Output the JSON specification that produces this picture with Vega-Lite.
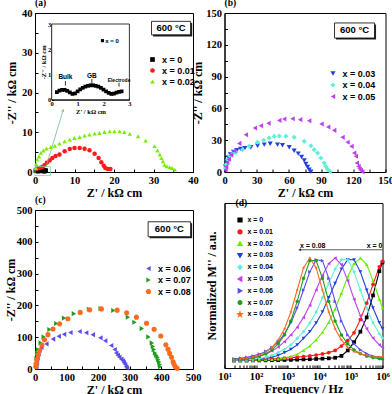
{
"$schema":"https://vega.github.io/schema/vega-lite/v6.json",
"background":"white",
"padding":{"left":3,"top":-3,"right":0,"bottom":0},
"datasets":{
"a":[
{"s":"x = 0","x":0.2,"y":0.3},{"s":"x = 0","x":0.3,"y":0.36},{"s":"x = 0","x":0.4,"y":0.39},{"s":"x = 0","x":0.5,"y":0.39},{"s":"x = 0","x":0.6,"y":0.35},{"s":"x = 0","x":0.7,"y":0.29},{"s":"x = 0","x":0.8,"y":0.23},{"s":"x = 0","x":0.9,"y":0.25},{"s":"x = 0","x":1.0,"y":0.33},{"s":"x = 0","x":1.1,"y":0.41},{"s":"x = 0","x":1.2,"y":0.47},{"s":"x = 0","x":1.3,"y":0.52},{"s":"x = 0","x":1.4,"y":0.55},{"s":"x = 0","x":1.5,"y":0.57},{"s":"x = 0","x":1.6,"y":0.57},{"s":"x = 0","x":1.7,"y":0.55},{"s":"x = 0","x":1.8,"y":0.52},{"s":"x = 0","x":1.9,"y":0.47},{"s":"x = 0","x":2.0,"y":0.4},{"s":"x = 0","x":2.1,"y":0.33},{"s":"x = 0","x":2.2,"y":0.27},{"s":"x = 0","x":2.3,"y":0.23},{"s":"x = 0","x":2.4,"y":0.24},{"s":"x = 0","x":2.5,"y":0.28},{"s":"x = 0","x":2.6,"y":0.31},{"s":"x = 0","x":2.7,"y":0.33},
{"s":"x = 0.01","x":0.4,"y":0.8},{"s":"x = 0.01","x":0.9,"y":1.0},{"s":"x = 0.01","x":1.4,"y":1.1},{"s":"x = 0.01","x":1.9,"y":1.25},{"s":"x = 0.01","x":2.4,"y":1.7},{"s":"x = 0.01","x":3.0,"y":2.3},{"s":"x = 0.01","x":3.7,"y":2.9},{"s":"x = 0.01","x":4.4,"y":3.5},{"s":"x = 0.01","x":5.2,"y":4.0},{"s":"x = 0.01","x":6.2,"y":4.4},{"s":"x = 0.01","x":7.5,"y":5.2},{"s":"x = 0.01","x":8.8,"y":5.8},{"s":"x = 0.01","x":10,"y":6.04},{"s":"x = 0.01","x":11.3,"y":6.04},{"s":"x = 0.01","x":12.55,"y":5.87},{"s":"x = 0.01","x":13.8,"y":5.45},{"s":"x = 0.01","x":15.1,"y":4.61},{"s":"x = 0.01","x":16.1,"y":3.52},{"s":"x = 0.01","x":16.8,"y":2.43},{"s":"x = 0.01","x":17.4,"y":1.59},{"s":"x = 0.01","x":17.8,"y":1.0},{"s":"x = 0.01","x":18.4,"y":0.75},{"s":"x = 0.01","x":19.1,"y":0.75},
{"s":"x = 0.02","x":0.2,"y":1},{"s":"x = 0.02","x":0.3,"y":2},{"s":"x = 0.02","x":0.6,"y":3.1},{"s":"x = 0.02","x":1,"y":3.9},{"s":"x = 0.02","x":1.5,"y":4.8},{"s":"x = 0.02","x":2.1,"y":5.4},{"s":"x = 0.02","x":2.9,"y":5.9},{"s":"x = 0.02","x":4,"y":6.3},{"s":"x = 0.02","x":5,"y":6.6},{"s":"x = 0.02","x":6.2,"y":7.13},{"s":"x = 0.02","x":7.5,"y":7.72},{"s":"x = 0.02","x":8.8,"y":8.14},{"s":"x = 0.02","x":10,"y":8.55},{"s":"x = 0.02","x":11.3,"y":8.8},{"s":"x = 0.02","x":12.55,"y":9.14},{"s":"x = 0.02","x":13.8,"y":9.4},{"s":"x = 0.02","x":15.1,"y":9.65},{"s":"x = 0.02","x":16.3,"y":9.8},{"s":"x = 0.02","x":17.6,"y":10.06},{"s":"x = 0.02","x":18.9,"y":10.23},{"s":"x = 0.02","x":20.1,"y":10.23},{"s":"x = 0.02","x":21.4,"y":10.23},{"s":"x = 0.02","x":22.6,"y":10.06},{"s":"x = 0.02","x":24,"y":9.6},{"s":"x = 0.02","x":26.1,"y":9.0},{"s":"x = 0.02","x":28,"y":7.9},{"s":"x = 0.02","x":30.3,"y":6.5},{"s":"x = 0.02","x":31,"y":5.4},{"s":"x = 0.02","x":31.6,"y":4.4},{"s":"x = 0.02","x":32,"y":3.5},{"s":"x = 0.02","x":32.4,"y":2.7},{"s":"x = 0.02","x":32.8,"y":1.8},{"s":"x = 0.02","x":33.4,"y":1.4},{"s":"x = 0.02","x":34.1,"y":1.2},{"s":"x = 0.02","x":34.7,"y":1.0},{"s":"x = 0.02","x":35.4,"y":0.6}
],
"b":[
{"s":"x = 0.03","x":0.9,"y":5},{"s":"x = 0.03","x":2,"y":9.5},{"s":"x = 0.03","x":3.5,"y":13.5},{"s":"x = 0.03","x":5.5,"y":16.5},{"s":"x = 0.03","x":8.4,"y":19},{"s":"x = 0.03","x":11.5,"y":20.5},{"s":"x = 0.03","x":15,"y":21.8},{"s":"x = 0.03","x":19,"y":22.5},{"s":"x = 0.03","x":24.6,"y":23.3},{"s":"x = 0.03","x":30.8,"y":24.8},{"s":"x = 0.03","x":37,"y":25.8},{"s":"x = 0.03","x":42.6,"y":26.7},{"s":"x = 0.03","x":49.4,"y":25.8},{"s":"x = 0.03","x":54,"y":25.2},{"s":"x = 0.03","x":60.3,"y":23.3},{"s":"x = 0.03","x":64.9,"y":20.1},{"s":"x = 0.03","x":68.7,"y":17.3},{"s":"x = 0.03","x":71.8,"y":14.2},{"s":"x = 0.03","x":74.3,"y":11},{"s":"x = 0.03","x":75.8,"y":7.5},{"s":"x = 0.03","x":77.4,"y":4.7},{"s":"x = 0.03","x":78.9,"y":2.2},{"s":"x = 0.03","x":80.5,"y":0.3},
{"s":"x = 0.04","x":0.9,"y":3.8},{"s":"x = 0.04","x":1.6,"y":7},{"s":"x = 0.04","x":3,"y":11.5},{"s":"x = 0.04","x":5,"y":15},{"s":"x = 0.04","x":7.5,"y":17},{"s":"x = 0.04","x":10.6,"y":18.5},{"s":"x = 0.04","x":16.8,"y":21.1},{"s":"x = 0.04","x":23,"y":24.2},{"s":"x = 0.04","x":30.8,"y":28},{"s":"x = 0.04","x":36.4,"y":29.9},{"s":"x = 0.04","x":41.6,"y":32.1},{"s":"x = 0.04","x":46.3,"y":33.6},{"s":"x = 0.04","x":51,"y":34},{"s":"x = 0.04","x":57.2,"y":33.8},{"s":"x = 0.04","x":64.9,"y":32.7},{"s":"x = 0.04","x":74.3,"y":28.9},{"s":"x = 0.04","x":80.5,"y":24.8},{"s":"x = 0.04","x":83.6,"y":21.1},{"s":"x = 0.04","x":86.7,"y":17.9},{"s":"x = 0.04","x":89.8,"y":13.2},{"s":"x = 0.04","x":92.9,"y":8.5},{"s":"x = 0.04","x":94.4,"y":5.3},{"s":"x = 0.04","x":96,"y":2.5},{"s":"x = 0.04","x":98.5,"y":0.5},
{"s":"x = 0.05","x":0.9,"y":2},{"s":"x = 0.05","x":1.5,"y":5},{"s":"x = 0.05","x":2.5,"y":9},{"s":"x = 0.05","x":4,"y":12},{"s":"x = 0.05","x":6,"y":16},{"s":"x = 0.05","x":9,"y":20},{"s":"x = 0.05","x":13.7,"y":27},{"s":"x = 0.05","x":19.9,"y":35.2},{"s":"x = 0.05","x":28.3,"y":41.5},{"s":"x = 0.05","x":33.9,"y":43.7},{"s":"x = 0.05","x":41,"y":46},{"s":"x = 0.05","x":51,"y":48.7},{"s":"x = 0.05","x":55.6,"y":50},{"s":"x = 0.05","x":63.4,"y":50.3},{"s":"x = 0.05","x":70.5,"y":49.4},{"s":"x = 0.05","x":78.9,"y":48.4},{"s":"x = 0.05","x":90.4,"y":45.3},{"s":"x = 0.05","x":96.6,"y":42.5},{"s":"x = 0.05","x":102.2,"y":39.3},{"s":"x = 0.05","x":110,"y":32.7},{"s":"x = 0.05","x":114.6,"y":28},{"s":"x = 0.05","x":118.3,"y":24.2},{"s":"x = 0.05","x":120.8,"y":17.9},{"s":"x = 0.05","x":122.4,"y":14.8},{"s":"x = 0.05","x":123.3,"y":8.5},{"s":"x = 0.05","x":124.8,"y":5.3},{"s":"x = 0.05","x":125.8,"y":3.1},{"s":"x = 0.05","x":127,"y":1.6},{"s":"x = 0.05","x":128.3,"y":0.3}
],
"c":[
{"s":"x = 0.06","x":4,"y":8},{"s":"x = 0.06","x":6,"y":19},{"s":"x = 0.06","x":8,"y":35},{"s":"x = 0.06","x":11,"y":48},{"s":"x = 0.06","x":13,"y":58},{"s":"x = 0.06","x":20,"y":68},{"s":"x = 0.06","x":36,"y":79},{"s":"x = 0.06","x":57,"y":94},{"s":"x = 0.06","x":75,"y":103},{"s":"x = 0.06","x":92,"y":109},{"s":"x = 0.06","x":112,"y":115},{"s":"x = 0.06","x":141,"y":118},{"s":"x = 0.06","x":162,"y":114},{"s":"x = 0.06","x":183,"y":108},{"s":"x = 0.06","x":207,"y":98},{"s":"x = 0.06","x":222,"y":89},{"s":"x = 0.06","x":241,"y":74},{"s":"x = 0.06","x":252,"y":61},{"s":"x = 0.06","x":257,"y":50},{"s":"x = 0.06","x":262,"y":43},{"s":"x = 0.06","x":267,"y":37},{"s":"x = 0.06","x":273,"y":31},{"s":"x = 0.06","x":278,"y":26},{"s":"x = 0.06","x":281,"y":20},{"s":"x = 0.06","x":285,"y":14},{"s":"x = 0.06","x":288,"y":7},{"s":"x = 0.06","x":291,"y":3},
{"s":"x = 0.07","x":3,"y":12},{"s":"x = 0.07","x":5,"y":33},{"s":"x = 0.07","x":7,"y":50},{"s":"x = 0.07","x":9.6,"y":61},{"s":"x = 0.07","x":18,"y":82},{"s":"x = 0.07","x":27.5,"y":101},{"s":"x = 0.07","x":46,"y":124},{"s":"x = 0.07","x":67.5,"y":143},{"s":"x = 0.07","x":92,"y":160},{"s":"x = 0.07","x":123,"y":174},{"s":"x = 0.07","x":171,"y":188},{"s":"x = 0.07","x":208,"y":190},{"s":"x = 0.07","x":248,"y":184},{"s":"x = 0.07","x":294,"y":163},{"s":"x = 0.07","x":315,"y":147},{"s":"x = 0.07","x":338,"y":127},{"s":"x = 0.07","x":359,"y":101},{"s":"x = 0.07","x":370,"y":82},{"s":"x = 0.07","x":373,"y":71},{"s":"x = 0.07","x":376,"y":61},{"s":"x = 0.07","x":380,"y":50},{"s":"x = 0.07","x":384,"y":43},{"s":"x = 0.07","x":388,"y":37},{"s":"x = 0.07","x":390,"y":29},{"s":"x = 0.07","x":393,"y":22},{"s":"x = 0.07","x":395,"y":14},{"s":"x = 0.07","x":396,"y":7},
{"s":"x = 0.08","x":3,"y":7},{"s":"x = 0.08","x":4,"y":18},{"s":"x = 0.08","x":6,"y":30},{"s":"x = 0.08","x":10,"y":44},{"s":"x = 0.08","x":15,"y":58},{"s":"x = 0.08","x":22,"y":75},{"s":"x = 0.08","x":30,"y":92},{"s":"x = 0.08","x":41,"y":108},{"s":"x = 0.08","x":57,"y":126},{"s":"x = 0.08","x":78,"y":142},{"s":"x = 0.08","x":104,"y":158},{"s":"x = 0.08","x":143,"y":178},{"s":"x = 0.08","x":173,"y":186},{"s":"x = 0.08","x":210,"y":189},{"s":"x = 0.08","x":260,"y":185},{"s":"x = 0.08","x":290,"y":177},{"s":"x = 0.08","x":321,"y":163},{"s":"x = 0.08","x":353,"y":144},{"s":"x = 0.08","x":377,"y":125},{"s":"x = 0.08","x":398,"y":104},{"s":"x = 0.08","x":414,"y":76},{"s":"x = 0.08","x":421,"y":62},{"s":"x = 0.08","x":426,"y":49},{"s":"x = 0.08","x":432,"y":37},{"s":"x = 0.08","x":437,"y":23},{"s":"x = 0.08","x":440,"y":15},{"s":"x = 0.08","x":444,"y":7},{"s":"x = 0.08","x":450,"y":2}
],
"d":[
{"f":20,"x0":0.068,"x01":0.072,"x02":0.072,"x03":0.072,"x04":0.072,"x05":0.074,"x06":0.083,"x07":0.076,"x08":0.077},
{"f":31.6,"x0":0.068,"x01":0.073,"x02":0.072,"x03":0.072,"x04":0.073,"x05":0.077,"x06":0.089,"x07":0.08,"x08":0.082},
{"f":50.1,"x0":0.068,"x01":0.074,"x02":0.072,"x03":0.073,"x04":0.075,"x05":0.082,"x06":0.097,"x07":0.085,"x08":0.089},
{"f":79.4,"x0":0.069,"x01":0.076,"x02":0.072,"x03":0.075,"x04":0.079,"x05":0.09,"x06":0.109,"x07":0.094,"x08":0.099},
{"f":126,"x0":0.069,"x01":0.078,"x02":0.073,"x03":0.079,"x04":0.086,"x05":0.105,"x06":0.126,"x07":0.107,"x08":0.117},
{"f":200,"x0":0.07,"x01":0.08,"x02":0.075,"x03":0.086,"x04":0.097,"x05":0.125,"x06":0.151,"x07":0.13,"x08":0.144},
{"f":316,"x0":0.071,"x01":0.083,"x02":0.078,"x03":0.097,"x04":0.115,"x05":0.155,"x06":0.187,"x07":0.165,"x08":0.187},
{"f":501,"x0":0.072,"x01":0.086,"x02":0.083,"x03":0.115,"x04":0.14,"x05":0.19,"x06":0.238,"x07":0.22,"x08":0.254},
{"f":794,"x0":0.073,"x01":0.09,"x02":0.092,"x03":0.14,"x04":0.17,"x05":0.24,"x06":0.311,"x07":0.3,"x08":0.357},
{"f":1259,"x0":0.074,"x01":0.094,"x02":0.105,"x03":0.17,"x04":0.21,"x05":0.3,"x06":0.412,"x07":0.427,"x08":0.509},
{"f":1995,"x0":0.076,"x01":0.099,"x02":0.125,"x03":0.21,"x04":0.27,"x05":0.37,"x06":0.546,"x07":0.605,"x08":0.709},
{"f":3162,"x0":0.078,"x01":0.104,"x02":0.16,"x03":0.27,"x04":0.33,"x05":0.46,"x06":0.709,"x07":0.815,"x08":0.91},
{"f":5012,"x0":0.08,"x01":0.11,"x02":0.2,"x03":0.33,"x04":0.41,"x05":0.57,"x06":0.874,"x07":0.976,"x08":1.0},
{"f":7943,"x0":0.082,"x01":0.118,"x02":0.255,"x03":0.41,"x04":0.51,"x05":0.71,"x06":0.984,"x07":0.976,"x08":0.91},
{"f":12589,"x0":0.085,"x01":0.128,"x02":0.325,"x03":0.51,"x04":0.64,"x05":0.84,"x06":0.976,"x07":0.815,"x08":0.709},
{"f":19953,"x0":0.088,"x01":0.14,"x02":0.415,"x03":0.64,"x04":0.77,"x05":0.95,"x06":0.815,"x07":0.605,"x08":0.509},
{"f":31623,"x0":0.093,"x01":0.16,"x02":0.535,"x03":0.77,"x04":0.9,"x05":1.0,"x06":0.605,"x07":0.427,"x08":0.357},
{"f":50119,"x0":0.11,"x01":0.2,"x02":0.68,"x03":0.9,"x04":0.985,"x05":0.94,"x06":0.427,"x07":0.3,"x08":0.254},
{"f":79433,"x0":0.16,"x01":0.25,"x02":0.83,"x03":0.985,"x04":0.984,"x05":0.794,"x06":0.3,"x07":0.22,"x08":0.187},
{"f":125893,"x0":0.235,"x01":0.32,"x02":0.95,"x03":0.984,"x04":0.874,"x05":0.625,"x06":0.22,"x07":0.165,"x08":0.15},
{"f":199526,"x0":0.33,"x01":0.44,"x02":1.0,"x03":0.874,"x04":0.709,"x05":0.475,"x06":0.165,"x07":0.13,"x08":0.13},
{"f":316228,"x0":0.46,"x01":0.59,"x02":0.94,"x03":0.709,"x04":0.546,"x05":0.357,"x06":0.13,"x07":0.107,"x08":0.115},
{"f":501187,"x0":0.66,"x01":0.76,"x02":0.794,"x03":0.546,"x04":0.412,"x05":0.272,"x06":0.107,"x07":0.094,"x08":0.105},
{"f":794328,"x0":0.88,"x01":0.92,"x02":0.625,"x03":0.412,"x04":0.311,"x05":0.21,"x06":0.094,"x07":0.085,"x08":0.1},
{"f":1000000,"x0":0.96,"x01":0.97,"x02":0.546,"x03":0.357,"x04":0.272,"x05":0.187,"x06":0.089,"x07":0.082,"x08":0.1}
]
},
"hconcat":[
{"vconcat":[
{"width":158,"height":159,
 "title":{"text":"(a)"},
 "layer":[
  {"layer":[
   {"data":{"name":"a"},"mark":{"type":"point","filled":true,"size":20,"opacity":1},
    "encoding":{
     "x":{"field":"x","type":"quantitative","scale":{"domain":[0,40],"nice":false},"axis":{"title":"Z' / kΩ cm","values":[0,5,10,15,20,25,30,35,40],"tickCount":100,"format":"d","labelExpr":"datum.value % 10 == 0 ? datum.label : ''","labelOverlap":false}},
     "y":{"field":"y","type":"quantitative","scale":{"domain":[0,40],"nice":false},"axis":{"title":"-Z'' / kΩ cm","values":[0,5,10,15,20,25,30,35,40],"tickCount":100,"format":"d","labelExpr":"datum.value % 10 == 0 ? datum.label : ''","labelOverlap":false,"titlePadding":3}},
     "color":{"field":"s","type":"nominal","scale":{"domain":["x = 0","x = 0.01","x = 0.02"],"range":["#000000","#ff1a1a","#77ee00"]},"legend":{"orient":"none","legendX":113,"legendY":42,"title":null,"labelFontSize":9,"symbolSize":22,"rowPadding":1,"labelOffset":5}},
     "shape":{"field":"s","type":"nominal","scale":{"domain":["x = 0","x = 0.01","x = 0.02"],"range":["square","circle","triangle-up"]},"legend":{"orient":"none","legendX":113,"legendY":42,"title":null,"labelFontSize":9,"symbolSize":22,"rowPadding":1,"labelOffset":5}}
    }},
   {"data":{"values":[{}]},"mark":{"type":"rect","fillOpacity":0,"stroke":"#7fd69a","strokeWidth":0.8},"encoding":{"x":{"datum":0},"x2":{"datum":3.9},"y":{"datum":-0.9},"y2":{"datum":1.4}}},
   {"data":{"values":[{}]},"mark":{"type":"rule","stroke":"#6cc08b","strokeWidth":0.8},"encoding":{"x":{"datum":2.8},"x2":{"datum":7.2},"y":{"datum":1.3},"y2":{"datum":15.8}}},
   {"data":{"values":[{}]},"mark":{"type":"point","shape":"triangle-up","filled":true,"size":12,"angle":17,"color":"#6cc08b"},"encoding":{"x":{"datum":7.1},"y":{"datum":15.5}}},
   {"data":{"values":[{}]},"mark":{"type":"rect","fill":"#222222"},"encoding":{"x":{"datum":29.9},"x2":{"datum":39.8},"y":{"datum":34.1},"y2":{"datum":37.5}}},
   {"data":{"values":[{}]},"mark":{"type":"rect","fill":"white","stroke":"black","strokeWidth":0.8},"encoding":{"x":{"datum":29.5},"x2":{"datum":39.4},"y":{"datum":34.5},"y2":{"datum":37.9}}},
   {"data":{"values":[{}]},"mark":{"type":"text","text":"600 °C","fontSize":9.5,"align":"center","baseline":"middle"},"encoding":{"x":{"datum":34.45},"y":{"datum":36.2}}}
  ]},
  {"layer":[
   {"data":{"values":[{}]},"mark":{"type":"rect","fill":"white","stroke":"black","strokeWidth":0.8},
    "encoding":{
     "x":{"datum":0,"type":"quantitative","scale":{"domain":[0,3],"range":[16.7,94.4],"nice":false},"axis":{"orient":"bottom","offset":-72.3,"values":[0,1,2,3],"tickCount":100,"format":"d","title":"Z' / kΩ cm","labelFontSize":6.5,"titleFontSize":6.5,"labelPadding":3,"titlePadding":1,"tickSize":-2,"labelOverlap":false}},
     "x2":{"datum":3},
     "y":{"datum":0,"type":"quantitative","scale":{"domain":[0,3],"range":[86.7,11],"nice":false},"axis":{"orient":"left","offset":-16.7,"values":[0,1,2,3],"tickCount":100,"format":"d","title":"-Z'' / kΩ cm","labelFontSize":6.5,"titleFontSize":6.5,"labelPadding":3,"titlePadding":1,"tickSize":-2,"labelOverlap":false}},
     "y2":{"datum":3}}},
   {"data":{"name":"a"},"transform":[{"filter":"datum.s == 'x = 0'"}],"mark":{"type":"square","size":14,"color":"black","opacity":1},"encoding":{"x":{"field":"x","type":"quantitative"},"y":{"field":"y","type":"quantitative"}}},
   {"data":{"values":[{}]},"mark":{"type":"square","size":10,"color":"black","opacity":1},"encoding":{"x":{"datum":1.96},"y":{"datum":2.34}}},
   {"data":{"values":[{}]},"mark":{"type":"text","text":"x = 0","fontSize":6,"align":"left","baseline":"middle"},"encoding":{"x":{"datum":2.07},"y":{"datum":2.34}}},
   {"data":{"values":[{}]},"mark":{"type":"text","text":"Bulk","fontSize":6.5,"align":"center","baseline":"middle"},"encoding":{"x":{"datum":0.53},"y":{"datum":0.88}}},
   {"data":{"values":[{}]},"mark":{"type":"text","text":"GB","fontSize":6.5,"align":"center","baseline":"middle"},"encoding":{"x":{"datum":1.55},"y":{"datum":0.95}}},
   {"data":{"values":[{}]},"mark":{"type":"text","text":"Electrode","fontSize":5,"align":"center","baseline":"middle"},"encoding":{"x":{"datum":2.6},"y":{"datum":0.77}}},
   {"data":{"values":[{"x":0.53,"y1":0.74,"y2":0.56},{"x":1.55,"y1":0.82,"y2":0.64},{"x":2.6,"y1":0.67,"y2":0.52}]},"mark":{"type":"rule","stroke":"black","strokeWidth":0.8},"encoding":{"x":{"field":"x","type":"quantitative"},"y":{"field":"y1","type":"quantitative"},"y2":{"field":"y2"}}}
  ]}
 ],
 "resolve":{"scale":{"x":"independent","y":"independent"},"axis":{"x":"independent","y":"independent"}}
},
{"width":158,"height":159,
 "title":{"text":"(c)"},
 "layer":[
  {"data":{"name":"c"},"mark":{"type":"point","filled":true,"size":26,"opacity":1},
   "encoding":{
    "x":{"field":"x","type":"quantitative","scale":{"domain":[0,500],"nice":false},"axis":{"title":"Z' / kΩ cm","values":[0,50,100,150,200,250,300,350,400,450,500],"tickCount":100,"format":"d","labelExpr":"datum.value % 100 == 0 ? datum.label : ''","labelOverlap":false}},
    "y":{"field":"y","type":"quantitative","scale":{"domain":[0,500],"nice":false},"axis":{"title":"-Z'' / kΩ cm","values":[0,50,100,150,200,250,300,350,400,450,500],"tickCount":100,"format":"d","labelExpr":"datum.value % 100 == 0 ? datum.label : ''","labelOverlap":false,"titlePadding":-1}},
    "color":{"field":"s","type":"nominal","scale":{"domain":["x = 0.06","x = 0.07","x = 0.08"],"range":["#5a4cf0","#1e9e1e","#ff6a1f"]},"legend":{"orient":"none","legendX":109,"legendY":54,"title":null,"labelFontSize":9,"symbolSize":26,"rowPadding":1.5,"labelOffset":5}},
    "shape":{"field":"s","type":"nominal","scale":{"domain":["x = 0.06","x = 0.07","x = 0.08"],"range":["triangle-left","triangle-right","circle"]},"legend":{"orient":"none","legendX":109,"legendY":54,"title":null,"labelFontSize":9,"symbolSize":26,"rowPadding":1.5,"labelOffset":5}}
   }},
  {"data":{"values":[{}]},"mark":{"type":"rect","fill":"#222222"},"encoding":{"x":{"datum":362.7},"x2":{"datum":497.3},"y":{"datum":411.3},"y2":{"datum":458.3}}},
  {"data":{"values":[{}]},"mark":{"type":"rect","fill":"white","stroke":"black","strokeWidth":0.8},"encoding":{"x":{"datum":358},"x2":{"datum":492.6},"y":{"datum":416},"y2":{"datum":463}}},
  {"data":{"values":[{}]},"mark":{"type":"text","text":"600 °C","fontSize":9.5,"align":"center","baseline":"middle"},"encoding":{"x":{"datum":425.3},"y":{"datum":439.5}}}
 ]
}
],"spacing":38,"bounds":"flush","resolve":{"scale":{"color":"independent","shape":"independent"},"legend":{"color":"independent","shape":"independent"}}},
{"vconcat":[
{"width":161,"height":159,
 "title":{"text":"(b)"},
 "layer":[
  {"data":{"name":"b"},"mark":{"type":"point","filled":true,"size":26,"opacity":1},
   "encoding":{
    "x":{"field":"x","type":"quantitative","scale":{"domain":[0,150],"nice":false},"axis":{"title":"Z' / kΩ cm","values":[0,15,30,45,60,75,90,105,120,135,150],"tickCount":100,"format":"d","labelExpr":"datum.value % 30 == 0 ? datum.label : ''","labelOverlap":false}},
    "y":{"field":"y","type":"quantitative","scale":{"domain":[0,150],"nice":false},"axis":{"title":"-Z'' / kΩ cm","values":[0,15,30,45,60,75,90,105,120,135,150],"tickCount":100,"format":"d","labelExpr":"datum.value % 30 == 0 ? datum.label : ''","labelOverlap":false,"titlePadding":1}},
    "color":{"field":"s","type":"nominal","scale":{"domain":["x = 0.03","x = 0.04","x = 0.05"],"range":["#1f3fe0","#5ff0d8","#c03ef2"]},"legend":{"orient":"none","legendX":104,"legendY":56,"title":null,"labelFontSize":9,"symbolSize":26,"rowPadding":1.5,"labelOffset":5}},
    "shape":{"field":"s","type":"nominal","scale":{"domain":["x = 0.03","x = 0.04","x = 0.05"],"range":["triangle-down","diamond","triangle-left"]},"legend":{"orient":"none","legendX":104,"legendY":56,"title":null,"labelFontSize":9,"symbolSize":26,"rowPadding":1.5,"labelOffset":5}}
   }},
  {"data":{"values":[{}]},"mark":{"type":"rect","fill":"#222222"},"encoding":{"x":{"datum":103.9},"x2":{"datum":141.2},"y":{"datum":125},"y2":{"datum":139.2}}},
  {"data":{"values":[{}]},"mark":{"type":"rect","fill":"white","stroke":"black","strokeWidth":0.8},"encoding":{"x":{"datum":102.5},"x2":{"datum":139.8},"y":{"datum":126.4},"y2":{"datum":140.6}}},
  {"data":{"values":[{}]},"mark":{"type":"text","text":"600 °C","fontSize":9.5,"align":"center","baseline":"middle"},"encoding":{"x":{"datum":121.1},"y":{"datum":133.5}}}
 ]
},
{"width":158,"height":165,
 "title":{"text":"(d)","dx":11,"offset":-4},
 "layer":[
  {"data":{"name":"d"},"transform":[{"fold":["x0","x01","x02","x03","x04","x05","x06","x07","x08"],"as":["s","m"]}],
   "mark":{"type":"line","strokeWidth":1.1},
   "encoding":{
    "x":{"field":"f","type":"quantitative","scale":{"type":"log","domain":[10,1000000],"nice":false},"axis":{"title":"Frequency / Hz","values":[10,20,30,40,50,60,70,80,90,100,200,300,400,500,600,700,800,900,1000,2000,3000,4000,5000,6000,7000,8000,9000,10000,20000,30000,40000,50000,60000,70000,80000,90000,100000,200000,300000,400000,500000,600000,700000,800000,900000,1000000],"tickCount":100,"labelOverlap":false,"labelExpr":"datum.value == 10 ? '10¹' : datum.value == 100 ? '10²' : datum.value == 1000 ? '10³' : datum.value == 10000 ? '10⁴' : datum.value == 100000 ? '10⁵' : datum.value == 1000000 ? '10⁶' : ''"}},
    "y":{"field":"m","type":"quantitative","scale":{"domain":[0,1.5],"nice":false},"axis":{"title":"Normalized M'' / a.u.","labels":false,"ticks":false,"titlePadding":6}},
    "color":{"field":"s","type":"nominal","scale":{"domain":["x0","x01","x02","x03","x04","x05","x06","x07","x08"],"range":["#000000","#ff1a1a","#66ee00","#1f3fe0","#5ff0d8","#c03ef2","#5a4cf0","#1e9e1e","#ff6a1f"]},"legend":{"orient":"none","legendX":12,"legendY":13.5,"title":null,"labelFontSize":7,"symbolSize":14,"rowPadding":0.8,"labelOffset":4,"labelExpr":"datum.label == 'x0' ? 'x = 0' : 'x = 0.' + substring(datum.label, 1)"}},
    "order":{"field":"f","type":"quantitative"}
   }},
  {"data":{"name":"d"},"transform":[{"fold":["x0","x01","x02","x03","x04","x05","x06","x07","x08"],"as":["s","m"]}],
   "mark":{"type":"point","filled":true,"size":14,"opacity":1},
   "encoding":{
    "x":{"field":"f","type":"quantitative"},
    "y":{"field":"m","type":"quantitative"},
    "color":{"field":"s","type":"nominal","legend":{"orient":"none","legendX":12,"legendY":13.5,"title":null,"labelFontSize":7,"symbolSize":14,"rowPadding":0.8,"labelOffset":4,"labelExpr":"datum.label == 'x0' ? 'x = 0' : 'x = 0.' + substring(datum.label, 1)"}},
    "shape":{"field":"s","type":"nominal","scale":{"domain":["x0","x01","x02","x03","x04","x05","x06","x07","x08"],"range":["square","circle","triangle-up","triangle-down","diamond","triangle-left","triangle-right","M0,-1L0.866,-0.5L0.866,0.5L0,1L-0.866,0.5L-0.866,-0.5Z","M0,-1L0.224,-0.309L0.951,-0.309L0.363,0.118L0.588,0.809L0,0.382L-0.588,0.809L-0.363,0.118L-0.951,-0.309L-0.224,-0.309Z"]},"legend":{"orient":"none","legendX":12,"legendY":13.5,"title":null,"labelFontSize":7,"symbolSize":14,"rowPadding":0.8,"labelOffset":4,"labelExpr":"datum.label == 'x0' ? 'x = 0' : 'x = 0.' + substring(datum.label, 1)"}}
   }},
  {"data":{"values":[{}]},"mark":{"type":"rule","stroke":"#333333","strokeWidth":0.8},"encoding":{"x":{"datum":2300},"x2":{"datum":1000000},"y":{"datum":1.075}}},
  {"data":{"values":[{}]},"mark":{"type":"point","shape":"triangle-left","filled":true,"size":10,"color":"#333333","opacity":1},"encoding":{"x":{"datum":2400},"y":{"datum":1.075}}},
  {"data":{"values":[{}]},"mark":{"type":"text","text":"x = 0.08","fontSize":7,"align":"center","baseline":"middle"},"encoding":{"x":{"datum":6200},"y":{"datum":1.11}}},
  {"data":{"values":[{}]},"mark":{"type":"text","text":"x = 0","fontSize":7,"align":"center","baseline":"middle"},"encoding":{"x":{"datum":560000},"y":{"datum":1.11}}}
 ]
}
],"spacing":31,"bounds":"flush","resolve":{"scale":{"color":"independent","shape":"independent"},"legend":{"color":"independent","shape":"independent"}}}
],
"spacing":-11.5,
"bounds":"full",
"resolve":{"scale":{"color":"independent","shape":"independent"},"legend":{"color":"independent","shape":"independent"}},
"config":{
 "view":{"stroke":"black","strokeWidth":1},
 "axis":{"grid":false,"domainColor":"black","domainWidth":1,"tickColor":"black","tickSize":-3,"labelFont":"Liberation Serif","labelFontWeight":"bold","labelFontSize":10.5,"labelColor":"black","labelPadding":6,"labelFlush":false,"labelOverlap":false,"titleFont":"Liberation Serif","titleFontWeight":"bold","titleFontSize":12,"titleColor":"black","titlePadding":2},
 "legend":{"labelFont":"Liberation Sans","labelFontWeight":"bold","labelColor":"black"},
 "title":{"font":"Liberation Serif","fontWeight":"bold","fontSize":9.5,"anchor":"start","frame":"group","offset":0.5,"color":"black"},
 "text":{"font":"Liberation Sans","fontWeight":"bold","color":"black"}
}
}
